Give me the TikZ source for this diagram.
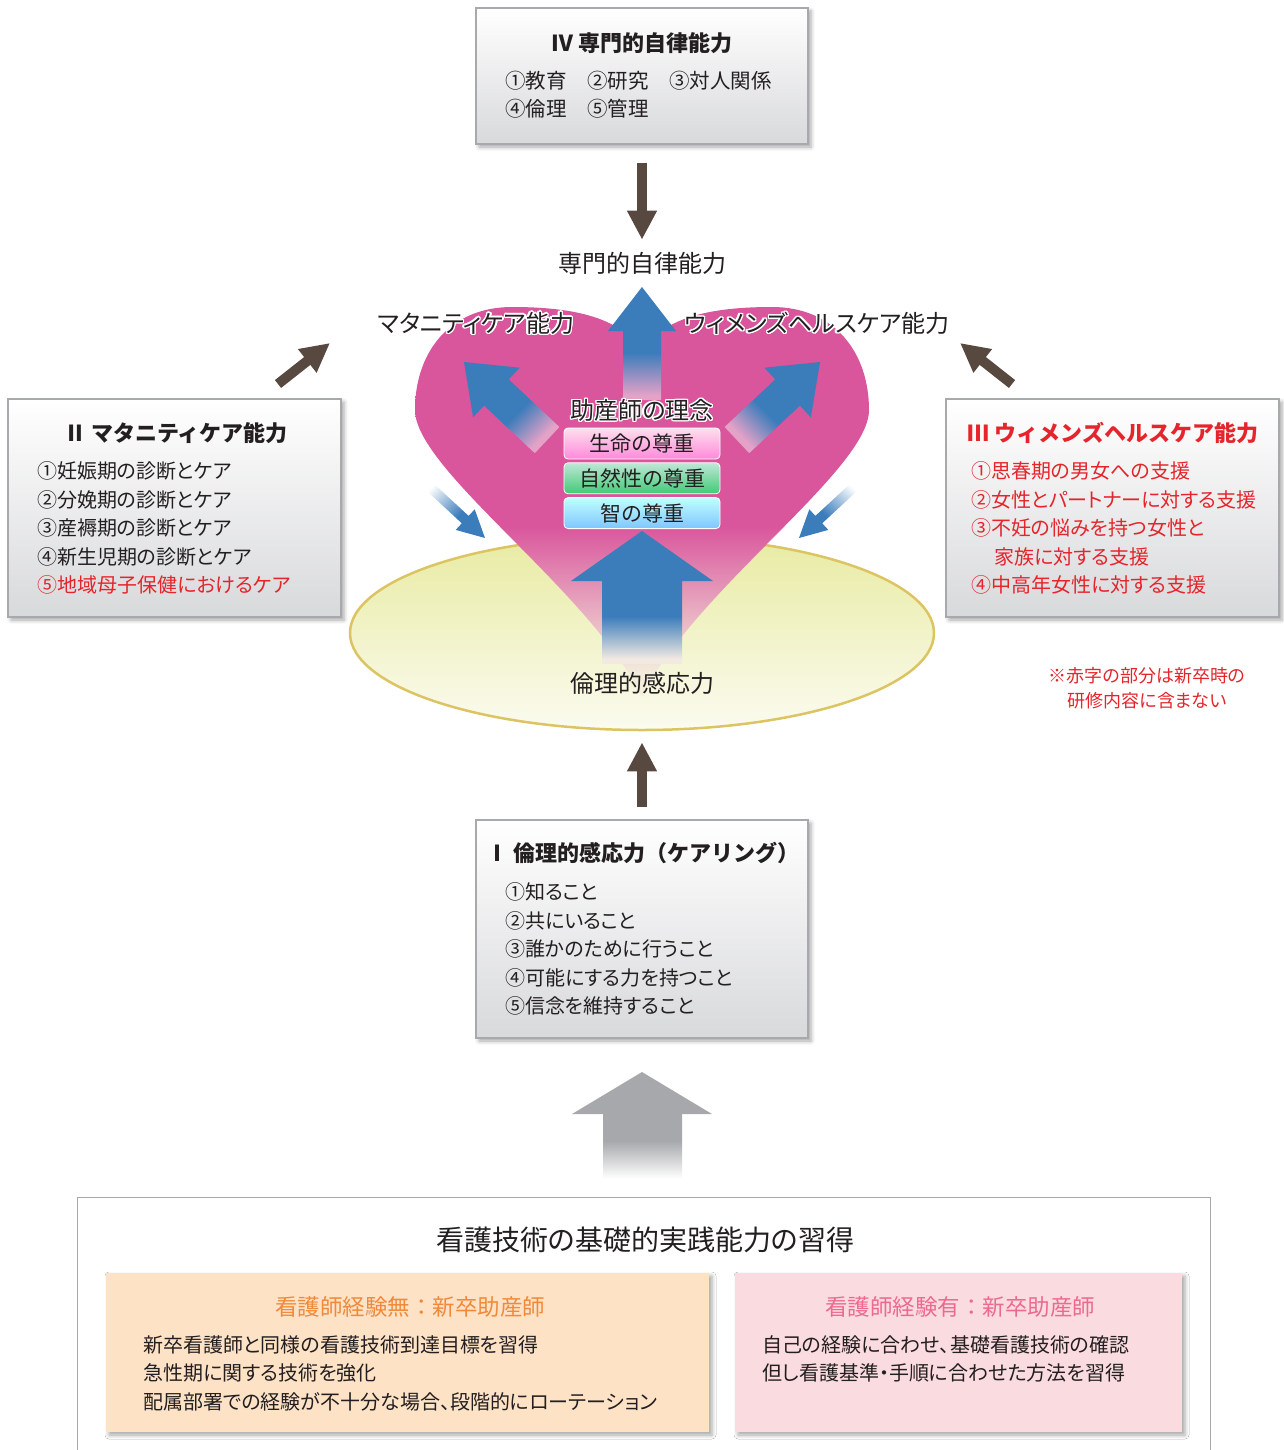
\documentclass[tikz,border=0pt]{standalone}
\usepackage{fontspec}
\setmainfont{Noto Sans CJK JP}
\newfontfamily\propfont{Noto Sans CJK JP}[RawFeature=+palt]
\usepackage{contour}
\contourlength{1.4pt}
\usetikzlibrary{arrows.meta,shadows.blur,positioning}

\definecolor{ink}{HTML}{231F20}
\definecolor{notered}{HTML}{E5242B}
\definecolor{darkarrow}{HTML}{574840}
\definecolor{arrowblue}{HTML}{3B7CBB}
\definecolor{heartpink}{HTML}{D9559C}
\definecolor{heartfade}{HTML}{F3EDDC}
\definecolor{tailpink}{HTML}{E4A2C7}
\definecolor{tailpale}{HTML}{F1E9E2}
\definecolor{arrowgray}{HTML}{A6A8AB}
\definecolor{panelline}{HTML}{A7A9AC}
\definecolor{panelbot}{HTML}{D8D9DB}
\definecolor{ellipsetop}{HTML}{E8EBA2}
\definecolor{ellipsebot}{HTML}{FBFBF0}
\definecolor{ellipseline}{HTML}{DCC463}
\definecolor{peach}{HTML}{FDE2C6}
\definecolor{peachtext}{HTML}{F08A3A}
\definecolor{rose}{HTML}{FADBDF}
\definecolor{rosetext}{HTML}{EC6A8E}

\pgfdeclareverticalshading{heartfill}{100bp}{color(0bp)=(heartfade); color(28bp)=(heartfade); color(47bp)=(heartpink); color(100bp)=(heartpink)}
\pgfdeclareverticalshading{bluepink}{100bp}{color(0bp)=(tailpink); color(27bp)=(tailpink); color(46bp)=(arrowblue); color(100bp)=(arrowblue)}
\pgfdeclareverticalshading{bluepale}{100bp}{color(0bp)=(tailpale); color(27bp)=(tailpale); color(43bp)=(arrowblue); color(100bp)=(arrowblue)}
\pgfdeclareverticalshading{bluewhite}{100bp}{color(0bp)=(white); color(20bp)=(white); color(55bp)=(arrowblue); color(100bp)=(arrowblue)}
\pgfdeclareverticalshading{graywhite}{100bp}{color(0bp)=(white); color(27bp)=(white); color(44bp)=(arrowgray); color(100bp)=(arrowgray)}

\newcommand\titlefont{\fontsize{22pt}{26pt}\selectfont\bfseries}
\newcommand\itemfont{\propfont\fontsize{20pt}{28.5pt}\selectfont}
\newcommand\labelfont{\propfont\fontsize{24pt}{27pt}\selectfont}

\tikzset{darrow/.style={line width=10pt,draw=darkarrow,-{Triangle[width=28pt,length=29pt]}}}
\tikzset{softshadow/.style={blur shadow={shadow xshift=3pt,shadow yshift=-3pt,shadow blur radius=4pt,shadow opacity=35}}}

\begin{document}
\begin{tikzpicture}[x=1pt,y=-1pt]

\tikzstyle{panel}=[draw=panelline,line width=1.2pt,top color=white,bottom color=panelbot,softshadow]
\tikzstyle{title}=[font=\titlefont,text=ink,inner sep=0pt]
\tikzstyle{items}=[font=\itemfont,text=ink,align=left,inner sep=0pt,anchor=west]
\tikzstyle{lbl}=[font=\labelfont,text=ink,inner sep=0pt]
\tikzstyle{ideal}=[draw=white,line width=0.8pt,rounded corners=4pt,minimum width=156pt,minimum height=31pt,
                   font=\fontsize{21pt}{24pt}\selectfont,text=ink,inner sep=0pt]

\useasboundingbox (0,0) rectangle (1283,1450);

% ellipse and heart
\shade[top color=ellipsetop,bottom color=ellipsebot,draw=ellipseline,line width=2.5pt]
  (642,633) ellipse [x radius=292,y radius=97];
\shade[shading=heartfill] (642,352) .. controls (622,318) and (575,307) .. (512,307)
  .. controls (450,307) and (415,352) .. (415,410)
  .. controls (415,470) and (590,590) .. (642,697)
  .. controls (694,590) and (869,470) .. (869,410)
  .. controls (869,352) and (834,307) .. (772,307)
  .. controls (709,307) and (662,318) .. (642,352) -- cycle;

% blue arrows
\shade[shading=bluepink] (642,287) -- (676,331) -- (661,331) -- (661,400)
  -- (623,400) -- (623,331) -- (608,331) -- cycle;
\shade[shading=bluepink,shading angle=45] (464,362) -- (519.7,367.7) -- (508.7,379.4)
  -- (559.4,427.0) -- (534.8,453.2) -- (484.1,405.6) -- (473.1,417.3) -- cycle;
\shade[shading=bluepink,shading angle=-45] (820,362) -- (764.3,367.7) -- (775.3,379.4)
  -- (724.6,427.0) -- (749.2,453.2) -- (799.9,405.6) -- (810.9,417.3) -- cycle;
\shade[shading=bluepale] (642,531) -- (713,581) -- (682,581) -- (682,664)
  -- (602,664) -- (602,581) -- (571,581) -- cycle;
\shade[shading=bluewhite,shading angle=-135] (485,538) -- (455.7,529.9) -- (461.8,523.3)
  -- (426.6,490.7) -- (433.4,483.3) -- (468.6,515.9) -- (474.7,509.3) -- cycle;
\shade[shading=bluewhite,shading angle=135] (799,538) -- (828.3,529.9) -- (822.2,523.3)
  -- (857.4,490.7) -- (850.6,483.3) -- (815.4,515.9) -- (809.3,509.3) -- cycle;
\shade[shading=graywhite] (642,1072) -- (712,1114) -- (682,1114) -- (682,1183)
  -- (603,1183) -- (603,1114) -- (572,1114) -- cycle;

% philosophy
\node[lbl] (creed) at (642,411) {\contour{white}{助産師の理念}};
\node[ideal,top color=white!50!pink!90!magenta!60,bottom color=magenta!35!pink!90] (life) at (642,443.5) {生命の尊重};
\node[ideal,top color=green!25!teal!25!white,bottom color=green!45!teal!75!white,below=3pt of life] (nature) {自然性の尊重};
\node[ideal,top color=cyan!25!white,bottom color=cyan!55!blue!50!white,below=3pt of nature] (wisdom) {智の尊重};

\node[lbl] (autoLbl) at (642,263) {専門的自律能力};
\node[lbl] (matLbl) at (476,324) {\contour{white}{マタニティケア能力}};
\node[lbl] (womLbl) at (817,324) {\contour{white}{ウィメンズヘルスケア能力}};
\node[lbl] (ethLbl) at (642,683) {倫理的感応力};

% IV
\node[panel,minimum width=332pt,minimum height=136pt] (kIV) at (642,76) {};
\node[title] (tIV) at (642,43) {Ⅳ 専門的自律能力};
\node[items,font=\fontsize{20.5pt}{28pt}\selectfont] (iIV) at (505,95) {①教育　②研究　③対人関係\\④倫理　⑤管理};

% II
\node[panel,minimum width=333pt,minimum height=218pt] (kII) at (174.5,508) {};
\node[title] (tII) at (176,433) {Ⅱ マタニティケア能力};
\node[items] (iII) at (37,528) {①妊娠期の診断とケア\\②分娩期の診断とケア\\③産褥期の診断とケア\\④新生児期の診断とケア\\
  \textcolor{notered}{⑤地域母子保健におけるケア}};

% III
\node[panel,minimum width=333pt,minimum height=218pt] (kIII) at (1112.5,508) {};
\node[title,text=notered] (tIII) at (1113,433) {Ⅲ ウィメンズヘルスケア能力};
\node[items,text=notered] (iIII) at (971,528) {①思春期の男女への支援\\②女性とパートナーに対する支援\\③不妊の悩みを持つ女性と\\
  \hspace*{1.15em}家族に対する支援\\④中高年女性に対する支援};
\node[font=\propfont\fontsize{18pt}{25pt}\selectfont,text=notered,align=center,inner sep=0pt] (note) at (1147,688)
  {※赤字の部分は新卒時の\\研修内容に含まない};

% I
\node[panel,minimum width=332pt,minimum height=218pt] (kI) at (642,929) {};
\node[title] (tI) at (643,853) {Ⅰ 倫理的感応力（ケアリング）};
\node[items] (iI) at (505,949) {①知ること\\②共にいること\\③誰かのために行うこと\\④可能にする力を持つこと\\⑤信念を維持すること};

% basic skills
\node[draw=panelline,line width=1.2pt,fill=white,minimum width=1133pt,minimum height=275pt,anchor=north west] (base) at (77,1197) {};
\node[lbl,font=\propfont\fontsize{28pt}{30pt}\selectfont] (baseLbl) at (645,1240) {看護技術の基礎的実践能力の習得};
\node[fill=peach,minimum width=603pt,minimum height=159pt,softshadow] (newbie) at (407.5,1352.5) {};
\node[fill=rose,minimum width=447pt,minimum height=159pt,softshadow] (nurse) at (958.5,1352.5) {};
\node[lbl,font=\fontsize{22.5pt}{26pt}\selectfont,text=peachtext] (newbieLbl) at (410,1307) {看護師経験無：新卒助産師};
\node[lbl,font=\fontsize{22.5pt}{26pt}\selectfont,text=rosetext] (nurseLbl) at (960,1307) {看護師経験有：新卒助産師};
\node[items] (newbieTxt) at (143,1373) {新卒看護師と同様の看護技術到達目標を習得\\急性期に関する技術を強化\\
  配属部署での経験が不十分な場合、段階的にローテーション};
\node[items] (nurseTxt) at (762,1359) {自己の経験に合わせ、基礎看護技術の確認\\但し看護基準・手順に合わせた方法を習得};

% dark arrows
\coordinate (fromII) at (278,384);
\coordinate (toMat) at (330,343);
\coordinate (fromIII) at (1012,384);
\coordinate (toWom) at (960,343);
\draw[darrow] ([yshift=-18pt]kIV.south) -- ([yshift=12pt]autoLbl.north);
\draw[darrow] (fromII) -- (toMat);
\draw[darrow] (fromIII) -- (toWom);
\draw[darrow] ([yshift=12pt]kI.north) -- ([yshift=-48pt]ethLbl.south);

\end{tikzpicture}
\end{document}
